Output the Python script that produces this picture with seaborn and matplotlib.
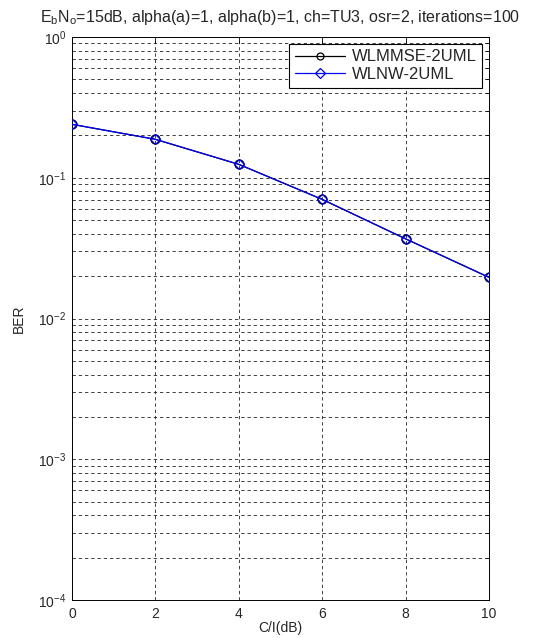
import matplotlib
matplotlib.use("Agg")
import matplotlib.pyplot as plt
import seaborn as sns
import pandas as pd
from matplotlib.ticker import LogLocator, NullFormatter, FixedLocator

ci_db = [0, 2, 4, 6, 8, 10]
ber_wlmmse = [0.2397, 0.1875, 0.1245, 0.0702, 0.0368, 0.0196]
ber_wlnw = [0.2397, 0.1875, 0.1245, 0.0702, 0.0368, 0.0196]
series_names = ["WLMMSE-2UML", "WLNW-2UML"]
title_text = "E$_\\mathregular{b}$N$_\\mathregular{o}$=15dB, alpha(a)=1, alpha(b)=1, ch=TU3, osr=2, iterations=100"

sns.set_style("white")
plt.rcParams['font.family'] = ['Liberation Sans', 'DejaVu Sans']
plt.rcParams['mathtext.fontset'] = 'custom'
plt.rcParams['mathtext.rm'] = 'Liberation Sans'

fig = plt.figure(figsize=(5.35, 6.38), dpi=100)
ax = fig.add_axes([72/535, 1-600/638, (489-72)/535, 563/638])

df = pd.DataFrame({"ci": ci_db * 2,
                   "ber": ber_wlmmse + ber_wlnw,
                   "series": [series_names[0]] * len(ci_db) + [series_names[1]] * len(ci_db)})

sns.lineplot(data=df[df.series == series_names[0]], x="ci", y="ber", ax=ax,
             color="black", marker="o", markersize=6.5, markerfacecolor="none",
             markeredgecolor="black", markeredgewidth=0.9, linewidth=0.9,
             label=series_names[0], zorder=3)
sns.lineplot(data=df[df.series == series_names[1]], x="ci", y="ber", ax=ax,
             color="blue", marker="D", markersize=5.5, markerfacecolor="none",
             markeredgecolor="blue", markeredgewidth=0.9, linewidth=0.9,
             label=series_names[1], zorder=4)

ax.set_yscale("log")
ax.set_ylim(1e-4, 1)
ax.set_xlim(0, 10)
ax.xaxis.set_major_locator(FixedLocator([0, 2, 4, 6, 8, 10]))
ax.yaxis.set_major_locator(LogLocator(base=10, numticks=10))
ax.yaxis.set_minor_locator(LogLocator(base=10, subs=range(2, 10), numticks=20))
ax.yaxis.set_minor_formatter(NullFormatter())

gkw = dict(color="#222222", linestyle=(0, (4, 3.5)), linewidth=0.6)
ax.grid(True, which="major", axis="both", **gkw)
ax.grid(True, which="minor", axis="y", **gkw)
ax.set_axisbelow(True)

ax.tick_params(which="both", direction="in", top=True, right=True, labelsize=10,
               length=4, width=0.6, color="black")
ax.tick_params(axis="x", pad=5)
ax.tick_params(axis="y", pad=4)
ax.tick_params(which="minor", length=2.5)
for s in ax.spines.values():
    s.set_color("black")
    s.set_linewidth(0.7)

ax.set_xlabel("C/I(dB)", fontsize=10, labelpad=0)
ax.set_ylabel("BER", fontsize=10, labelpad=9)
ax.set_title(title_text, fontsize=11.5, pad=11)

leg = ax.legend(loc="upper right", fontsize=12, frameon=True, fancybox=False,
                edgecolor="black", framealpha=1, handlelength=3.0,
                borderaxespad=0.4, borderpad=0.35, labelspacing=0.15, handletextpad=0.4)
leg.get_frame().set_linewidth(0.8)
for h in leg.legend_handles:
    h.set_markersize(5)

fig.savefig("out.png", dpi=100)
